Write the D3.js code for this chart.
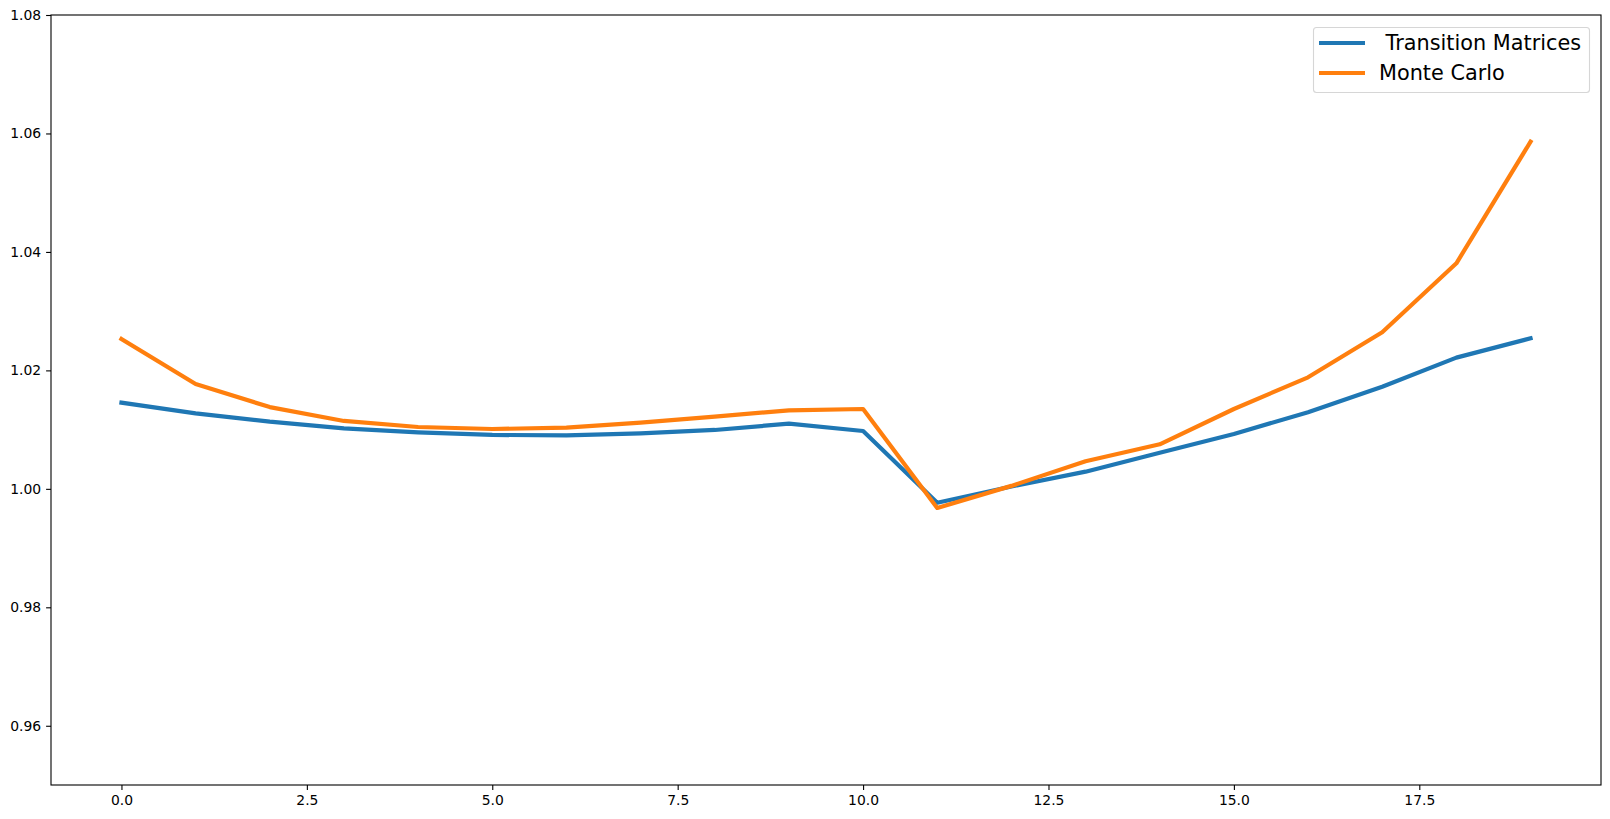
<!DOCTYPE html>
<html>
<head>
<meta charset="utf-8">
<script src="https://cdn.jsdelivr.net/npm/d3@7"></script>
<style>
  body { margin: 0; background: #fff; }
  text { font-family: "DejaVu Sans", sans-serif; }
</style>
</head>
<body>
<div id="chart"></div>
<script>
var steps = d3.range(20);
var transition = [1.01455, 1.01275, 1.01134, 1.01022, 1.00955, 1.0091, 1.00904, 1.00938, 1.00994, 1.0110,
                  1.00977, 0.99766, 1.0004, 1.0029, 1.0061, 1.00926, 1.01295, 1.01725, 1.02215, 1.02542];
var monteCarlo = [1.0253, 1.0177, 1.0138, 1.01146, 1.01044, 1.0101, 1.01032, 1.01117, 1.01218, 1.01326,
                  1.01348, 0.99677, 1.0005, 1.00465, 1.00752, 1.01348, 1.01883, 1.02643, 1.03808, 1.05861];
var seriesNames = [" Transition Matrices", "Monte Carlo"];
var colour = ["#1f77b4", "#ff7f0e"];
var xTicks = [0, 2.5, 5, 7.5, 10, 12.5, 15, 17.5];
var yTicks = [0.96, 0.98, 1.00, 1.02, 1.04, 1.06, 1.08];

var width = 1610, height = 819;
// plot area (window.top is read-only, so no "top" here)
var plotL = 51, plotR = 1601, plotT = 15, plotB = 785;

var svg = d3.select("#chart")
    .append("svg")
    .attr("width", width)
    .attr("height", height);

var x = d3.scaleLinear().domain([-0.95, 19.95]).range([plotL, plotR]);
var y = d3.scaleLinear().domain([0.95, 1.08]).range([plotB, plotT]);

var xAxis = svg.append("g")
    .attr("transform", "translate(0," + plotB + ")")
    .call(d3.axisBottom(x).tickValues(xTicks).tickFormat(d3.format(".1f")).tickSizeOuter(0).tickSize(4.9).tickPadding(4.9));

var yAxis = svg.append("g")
    .attr("transform", "translate(" + plotL + ",0)")
    .call(d3.axisLeft(y).tickValues(yTicks).tickFormat(d3.format(".2f")).tickSizeOuter(0).tickSize(4.9).tickPadding(4.9));

[xAxis, yAxis].forEach(function (a) {
    a.select(".domain").remove();
    a.selectAll("line").attr("stroke", "#000").attr("stroke-width", 1.1);
    a.selectAll("text")
        .attr("fill", "#000")
        .style("font-size", "13.9px")
        .style("font-family", "'DejaVu Sans', sans-serif");
});

var line = d3.line()
    .x(function (d, i) { return x(steps[i]); })
    .y(function (d) { return y(d); });

[transition, monteCarlo].forEach(function (s, i) {
    svg.append("path")
        .datum(s)
        .attr("d", line)
        .attr("fill", "none")
        .attr("stroke", colour[i])
        .attr("stroke-width", 4.2)
        .attr("stroke-linejoin", "round")
        .attr("stroke-linecap", "square");
});

// frame
svg.append("rect")
    .attr("x", plotL).attr("y", plotT)
    .attr("width", plotR - plotL).attr("height", plotB - plotT)
    .attr("fill", "none")
    .attr("stroke", "#000")
    .attr("stroke-width", 1.1);

// legend
var legend = svg.append("g");
legend.append("rect")
    .attr("x", 1313.5).attr("y", 27.5)
    .attr("width", 276).attr("height", 65)
    .attr("rx", 3)
    .attr("fill", "#fff")
    .attr("fill-opacity", 0.8)
    .attr("stroke", "#d6d6d6")
    .attr("stroke-width", 1.1);

var rows = legend.selectAll(".row")
    .data(seriesNames)
    .enter()
    .append("g")
    .attr("transform", function (d, i) { return "translate(0," + (43 + i * 30) + ")"; });

rows.append("line")
    .attr("x1", 1319).attr("x2", 1365)
    .attr("stroke", function (d, i) { return colour[i]; })
    .attr("stroke-width", 4.2);

rows.append("text")
    .attr("x", 1379)
    .attr("dy", "0.35em")
    .style("font-size", "20.8px")
    .style("white-space", "pre")
    .attr("fill", "#000")
    .text(function (d) { return d; });
</script>
</body>
</html>
